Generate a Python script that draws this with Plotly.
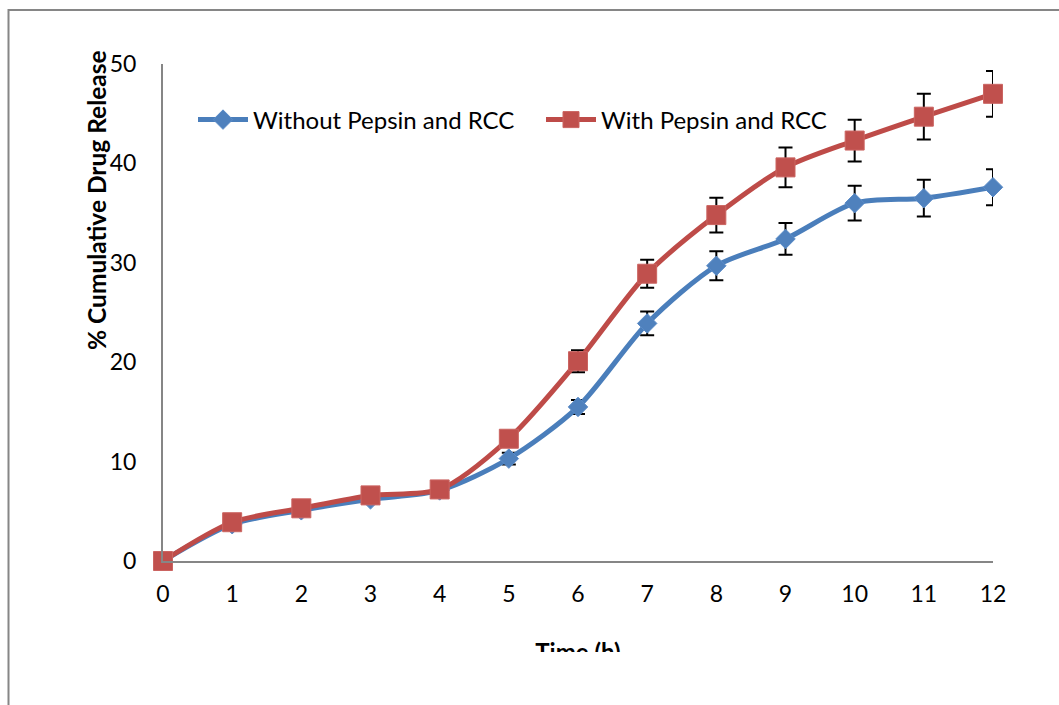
import plotly.graph_objects as go

W, H = 1059, 705

time_h = [0, 1, 2, 3, 4, 5, 6, 7, 8, 9, 10, 11, 12]
without_pepsin = [0, 3.7, 5.1, 6.2, 7.1, 10.3, 15.5, 23.9, 29.7, 32.4, 36.0, 36.5, 37.6]
without_err = [0, 0.3, 0.4, 0.4, 0.5, 0.6, 0.7, 1.2, 1.45, 1.6, 1.75, 1.85, 1.8]
with_pepsin = [0, 3.9, 5.3, 6.6, 7.2, 12.3, 20.1, 28.9, 34.8, 39.6, 42.3, 44.7, 47.0]
with_err = [0, 0.3, 0.4, 0.4, 0.5, 0.7, 1.1, 1.4, 1.75, 2.0, 2.1, 2.3, 2.3]
x_ticks = list(range(0, 13))
y_ticks = [0, 10, 20, 30, 40, 50]

FONT = "Lato"

# pixel geometry of plot area
PL, PR, PT, PB = 163, 993, 64, 561

def px_x(v):
    return v / W

def px_y(v):
    return (H - v) / H

fig = go.Figure()

fig.add_trace(go.Scatter(
    x=time_h, y=without_pepsin, name="Without Pepsin and RCC",
    mode="lines+markers", cliponaxis=False,
    line=dict(color="#4A7EBB", width=5, shape="spline", smoothing=0.8),
    marker=dict(symbol="diamond", size=15, color="#4F81BD",
                line=dict(color="#5B8CC8", width=1)),
    error_y=dict(type="data", array=without_err, visible=True,
                 color="black", thickness=2, width=7),
))
fig.add_trace(go.Scatter(
    x=time_h, y=with_pepsin, name="With Pepsin and RCC",
    mode="lines+markers", cliponaxis=False,
    line=dict(color="#BE4B48", width=5, shape="spline", smoothing=0.8),
    marker=dict(symbol="square", size=19, color="#C0504D",
                line=dict(color="#CB6461", width=1)),
    error_y=dict(type="data", array=with_err, visible=True,
                 color="black", thickness=2, width=7),
))

# clipped x-axis title (as in reference, only the top of the text is visible)
fig.add_trace(go.Scatter(
    x=[6], y=[-3], text=["Time (h)"], mode="text",
    textposition="middle center",
    textfont=dict(family=FONT, size=24, color="black", weight="bold"),
    xaxis="x2", yaxis="y2", showlegend=False, hoverinfo="skip",
    cliponaxis=True,
))

fig.update_layout(
    width=W, height=H,
    margin=dict(l=0, r=0, t=0, b=0, autoexpand=False),
    paper_bgcolor="white", plot_bgcolor="rgba(0,0,0,0)",
    font=dict(family=FONT, size=23, color="black"),
    xaxis=dict(
        domain=[px_x(PL), px_x(PR)], range=[0, 12],
        tickvals=x_ticks, ticktext=[str(t) for t in x_ticks],
        showgrid=False, zeroline=False, showline=True,
        linecolor="#868686", linewidth=2, ticks="",
        ticklabelstandoff=11, anchor="y",
        tickfont=dict(family=FONT, size=23, color="black"),
    ),
    yaxis=dict(
        domain=[px_y(PB), px_y(PT)], range=[0, 50],
        tickvals=y_ticks, ticktext=[str(t) for t in y_ticks],
        showgrid=False, zeroline=False, showline=True,
        linecolor="#868686", linewidth=2, ticks="",
        ticklabelstandoff=20, anchor="x",
        tickfont=dict(family=FONT, size=23, color="black"),
    ),
    xaxis2=dict(domain=[px_x(PL), px_x(PR)], range=[0, 12], visible=False,
                anchor="y2"),
    yaxis2=dict(domain=[px_y(652), px_y(600)], range=[0, 52], visible=False,
                anchor="x2"),
    showlegend=True,
    legend=dict(
        orientation="h", x=px_x(193), y=px_y(120), xanchor="left",
        yanchor="middle", bgcolor="rgba(0,0,0,0)",
        font=dict(family=FONT, size=24, color="black"),
        itemwidth=50, entrywidth=283, entrywidthmode="pixels",
        traceorder="normal",
    ),
    shapes=[dict(
        type="rect", xref="paper", yref="paper",
        x0=8.5 / W, x1=1.2, y0=-0.2, y1=px_y(10),
        line=dict(color="#868686", width=2), fillcolor="rgba(0,0,0,0)",
        layer="below",
    )],
    annotations=[dict(
        text="<b>% Cumulative Drug Release</b>", textangle=-90,
        xref="paper", yref="paper", x=px_x(97), y=px_y(200),
        xanchor="center", yanchor="middle", showarrow=False,
        font=dict(family=FONT, size=24.5, color="black"),
    )],
)

fig.write_html("out.html")
